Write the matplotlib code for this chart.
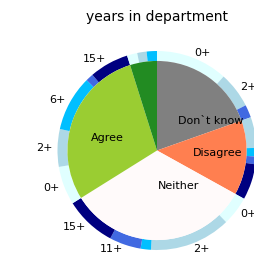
import matplotlib
matplotlib.use("Agg")
import matplotlib.pyplot as plt

# Inner ring: response categories (clockwise from top)
inner_labels = ['Don`t know', 'Disagree', 'Neither', 'Agree', '']
inner_colors = ['gray', 'coral', 'snow', 'yellowgreen', 'forestgreen']

# Outer ring: years in department within each response
year_labels = ['0+', '2+', '6+', '11+', '15+']
year_colors = ['lightcyan', 'lightblue', 'deepskyblue', 'royalblue', 'navy']

dont_know = [42, 21, 0, 7.5, 0]
disagree = [0, 18, 5, 4.5, 21]
neither = [17, 47.5, 6, 18.5, 30]
agree = [22.5, 22, 32.5, 4.5, 23]
strongly_agree = [6, 5.5, 6, 0, 0]

groups = [dont_know, disagree, neither, agree, strongly_agree]
inner_values = [sum(g) for g in groups]
outer_values = [v for g in groups for v in g]
outer_labels = [lab if v >= 10 else '' for g in groups for lab, v in zip(year_labels, g)]
outer_colors = [c for g in groups for c in year_colors]

fig = plt.figure(figsize=(2.55, 2.58), dpi=100)
W, H = 255.0, 258.0
cx, cy, R = 157.0, 150.5, 99.5
half = 1.25 * R
ax = fig.add_axes([(cx - half) / W, (H - (cy + half)) / H, 2 * half / W, 2 * half / H])

_, outer_texts = ax.pie(outer_values, radius=1.0, labels=outer_labels, colors=outer_colors,
                        startangle=90, counterclock=False, labeldistance=1.05,
                        wedgeprops=dict(width=0.1, linewidth=0),
                        textprops=dict(fontsize=8))
ax.pie(inner_values, radius=0.9, labels=inner_labels, colors=inner_colors,
       startangle=90, counterclock=False, labeldistance=0.4,
       wedgeprops=dict(linewidth=0),
       textprops=dict(fontsize=8))
ax.set_xlim(-1.25, 1.25)
ax.set_ylim(-1.25, 1.25)
ax.set_aspect('equal')
ax.set_title('years in department', fontsize=10, pad=4)

# labels whose anchor falls outside the figure are not visible in the original
fig.canvas.draw()
for t in outer_texts:
    px, py = ax.transData.transform(t.get_position())
    if px > W - 2 or px < 0:
        t.set_visible(False)

fig.savefig('out.png', dpi=100)
